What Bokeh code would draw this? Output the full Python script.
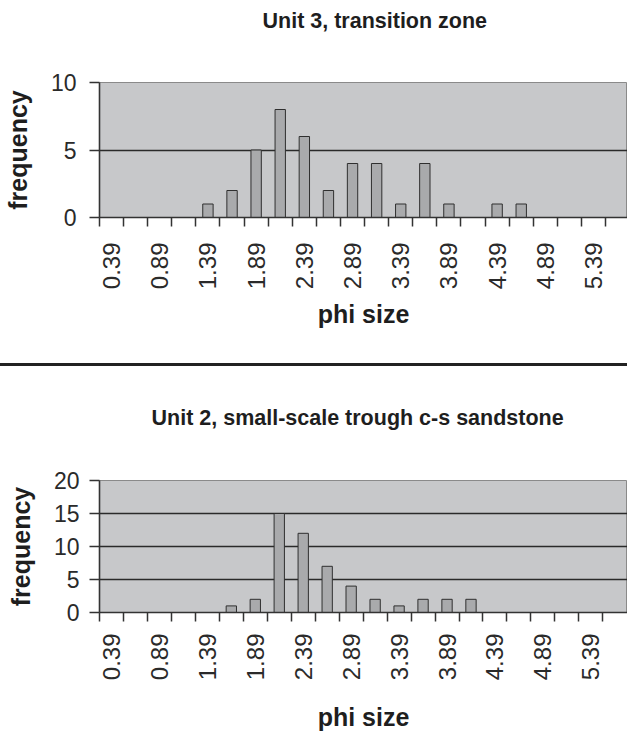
import numpy as np
from bokeh.plotting import figure
from bokeh.models import Range1d, FixedTicker, ColumnDataSource, Div, LinearAxis
from bokeh.layouts import column
from bokeh.embed import file_html
from bokeh.resources import INLINE

# ---- data -------------------------------------------------------------
phi = ["0.39", "0.64", "0.89", "1.14", "1.39", "1.64", "1.89", "2.14",
       "2.39", "2.64", "2.89", "3.14", "3.39", "3.64", "3.89", "4.14",
       "4.39", "4.64", "4.89", "5.14", "5.39", "5.64"]
unit3_freq = [0, 0, 0, 0, 1, 2, 5, 8, 6, 2, 4, 4, 1, 4, 1, 0, 1, 1, 0, 0, 0, 0]
unit2_freq = [0, 0, 0, 0, 0, 1, 2, 15, 12, 7, 4, 2, 1, 2, 2, 2, 0, 0, 0, 0, 0, 0]
unit3_title = "Unit 3, transition zone"
unit2_title = "Unit 2, small-scale trough c-s sandstone"
unit3_yticks = [0, 5, 10]
unit2_yticks = [0, 5, 10, 15, 20]
x_title = "phi size"
y_title = "frequency"

FONT = "Liberation Sans"


def make_chart(title, freq, yticks, width, height, left, top, bottom, x_end,
               title_offset, title_gap, ylab_standoff, xlab_standoff, xtitle_standoff):
    idx = np.arange(len(phi))
    keep = [i for i in idx if freq[i] > 0]
    src = ColumnDataSource(dict(x=[int(i) for i in keep], top=[freq[i] for i in keep]))

    p = figure(width=width, height=height, output_backend="svg", toolbar_location=None,
               x_range=Range1d(-0.5, x_end), y_range=Range1d(yticks[0], yticks[-1]),
               min_border_left=left, min_border_right=0, min_border_top=top,
               min_border_bottom=bottom)
    p.background_fill_color = "#c7c8ca"
    p.border_fill_color = "white"
    p.outline_line_color = "#8a8a8a"
    p.outline_line_width = 1

    p.vbar(x="x", top="top", bottom=0, width=0.43, source=src,
           fill_color="#a9aaac", line_color="#2f2f2f", line_width=1)

    # invisible spacer between frame and title: one transparent tick, empty label
    gap = LinearAxis(ticker=FixedTicker(ticks=[-0.5], minor_ticks=[]),
                     major_label_overrides={-0.5: ""},
                     axis_line_color=None,
                     major_tick_out=title_gap, major_tick_in=0, minor_tick_out=0,
                     minor_tick_in=0, major_tick_line_alpha=0,
                     minor_tick_line_color=None, major_label_standoff=0,
                     axis_label_standoff=0)
    p.add_layout(gap, "above")

    # title
    p.title.text = title
    p.title.align = "left"
    p.title.vertical_align = "top"
    p.title.offset = title_offset
    p.title.standoff = 10
    p.title.text_font = FONT
    p.title.text_font_size = "21.5px"
    p.title.text_font_style = "bold"
    p.title.text_color = "#1e1e1e"

    # grid
    p.xgrid.visible = False
    p.ygrid.ticker = FixedTicker(ticks=yticks[1:-1])
    p.ygrid.grid_line_color = "#2a2a2a"
    p.ygrid.grid_line_width = 1.6

    # x axis
    label_pos = [int(i) for i in idx if i % 2 == 0]
    xa = p.below[0]
    xa.ticker = FixedTicker(ticks=label_pos, minor_ticks=[i - 0.5 for i in idx])
    xa.major_label_overrides = {int(i): phi[i] for i in label_pos}
    xa.major_label_orientation = np.pi / 2
    xa.major_tick_out = 0
    xa.major_tick_in = 0
    xa.minor_tick_out = 9
    xa.minor_tick_in = 0
    xa.minor_tick_line_color = "#333333"
    xa.minor_tick_line_width = 1.5
    xa.axis_line_color = "#333333"
    xa.axis_line_width = 1.6
    xa.major_label_standoff = xlab_standoff
    xa.major_label_text_font = FONT
    xa.major_label_text_font_size = "24px"
    xa.major_label_text_color = "#2a2a2a"
    xa.axis_label = x_title
    xa.axis_label_text_font = FONT
    xa.axis_label_text_font_size = "25px"
    xa.axis_label_text_font_style = "bold"
    xa.axis_label_text_color = "#1e1e1e"
    xa.axis_label_standoff = xtitle_standoff

    # y axis
    ya = p.left[0]
    ya.ticker = FixedTicker(ticks=yticks)
    ya.major_tick_out = 10
    ya.major_tick_in = 0
    ya.minor_tick_out = 0
    ya.minor_tick_in = 0
    ya.major_tick_line_color = "#333333"
    ya.major_tick_line_width = 1.5
    ya.axis_line_color = "#333333"
    ya.axis_line_width = 1.6
    ya.major_label_standoff = ylab_standoff
    ya.major_label_text_font = FONT
    ya.major_label_text_font_size = "23px"
    ya.major_label_text_color = "#2a2a2a"
    ya.axis_label = y_title
    ya.axis_label_text_font = FONT
    ya.axis_label_text_font_size = "25px"
    ya.axis_label_text_font_style = "bold"
    ya.axis_label_text_color = "#1e1e1e"
    ya.axis_label_standoff = 16
    return p


p1 = make_chart(unit3_title, unit3_freq, unit3_yticks, width=627, height=363,
                left=99, top=82, bottom=146, x_end=21.41, title_offset=163, title_gap=43,
                ylab_standoff=13, xlab_standoff=16, xtitle_standoff=8)

sep = Div(text="", width=627, height=3, margin=0,
          styles={"background-color": "#222222", "width": "627px", "height": "3px"})

p2 = make_chart(unit2_title, unit2_freq, unit2_yticks, width=627, height=368,
                left=96, top=114, bottom=119, x_end=21.53, title_offset=52, title_gap=44,
                ylab_standoff=10, xlab_standoff=12, xtitle_standoff=20)

layout = column(p1, sep, p2, spacing=0)

with open("out.html", "w") as f:
    f.write(file_html(layout, INLINE))
